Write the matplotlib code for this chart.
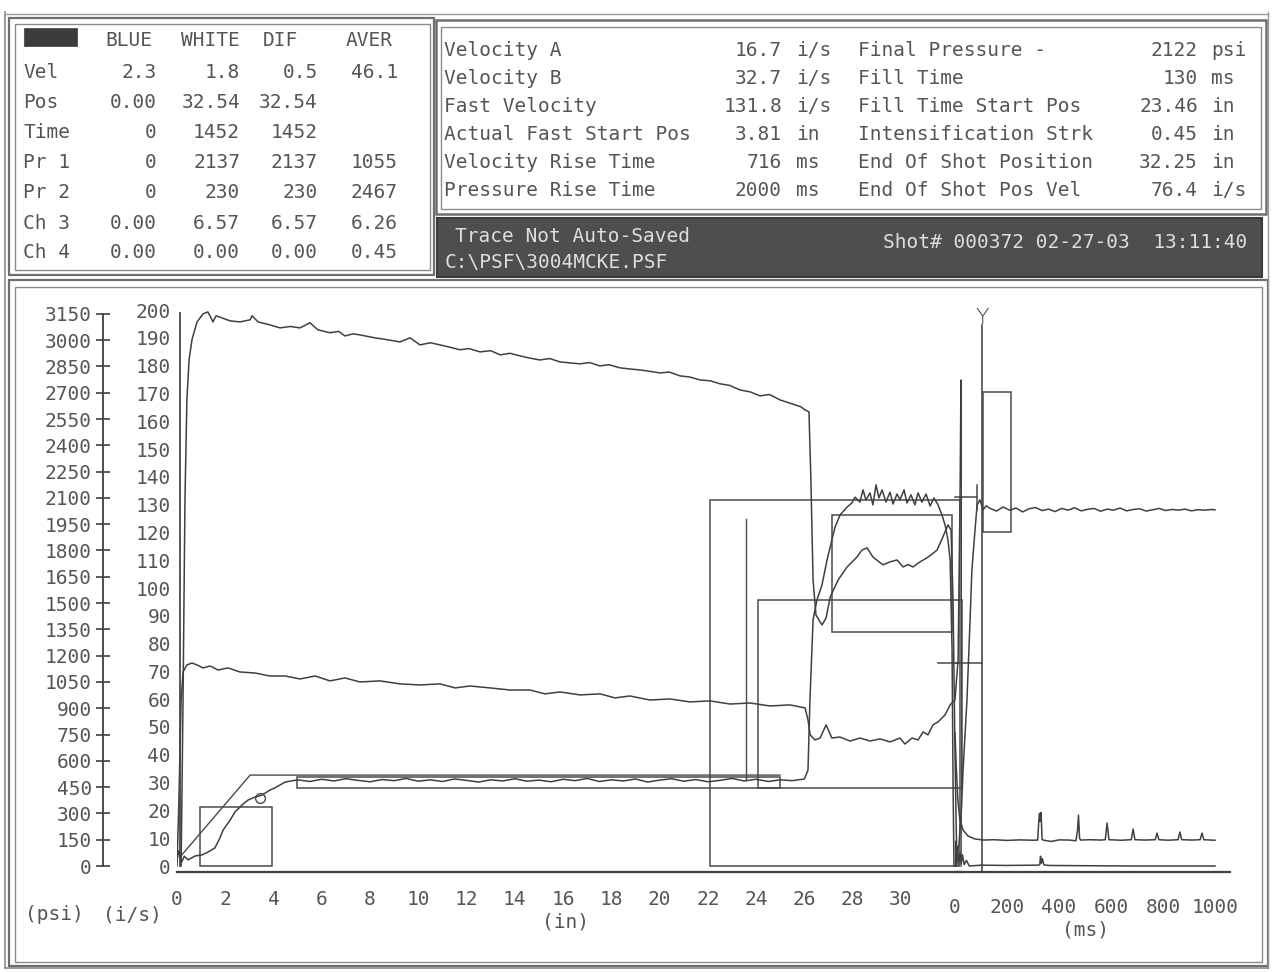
import matplotlib
matplotlib.use('Agg')
import matplotlib.pyplot as plt
from matplotlib.patches import Rectangle
from matplotlib.lines import Line2D

# ---------------- data ----------------
TABLE_COLS = ['BLUE', 'WHITE', 'DIF', 'AVER']
TABLE_ROWS = ['Vel', 'Pos', 'Time', 'Pr 1', 'Pr 2', 'Ch 3', 'Ch 4']
TABLE_VALUES = [
    ['2.3', '1.8', '0.5', '46.1'],
    ['0.00', '32.54', '32.54', ''],
    ['0', '1452', '1452', ''],
    ['0', '2137', '2137', '1055'],
    ['0', '230', '230', '2467'],
    ['0.00', '6.57', '6.57', '6.26'],
    ['0.00', '0.00', '0.00', '0.45'],
]
SUMMARY_LEFT = [
    ('Velocity A', '16.7', 'i/s'),
    ('Velocity B', '32.7', 'i/s'),
    ('Fast Velocity', '131.8', 'i/s'),
    ('Actual Fast Start Pos', '3.81', 'in'),
    ('Velocity Rise Time', '716', 'ms'),
    ('Pressure Rise Time', '2000', 'ms'),
]
SUMMARY_RIGHT = [
    ('Final Pressure -', '2122', 'psi'),
    ('Fill Time', '130', 'ms'),
    ('Fill Time Start Pos', '23.46', 'in'),
    ('Intensification Strk', '0.45', 'in'),
    ('End Of Shot Position', '32.25', 'in'),
    ('End Of Shot Pos Vel', '76.4', 'i/s'),
]
STATUS_LINES = ['Trace Not Auto-Saved', 'C:\\PSF\\3004MCKE.PSF']
SHOT_INFO = 'Shot# 000372 02-27-03  13:11:40'

POS_TICKS = list(range(0, 31, 2))
TIME_TICKS = [0, 200, 400, 600, 800, 1000]
PSI_TICKS = list(range(0, 3151, 150))
VEL_TICKS = list(range(0, 201, 10))

# velocity vs position (in, i/s)
VEL_POS = [
    (0.00, 2.2), (0.08, 5.5), (0.14, 3.0), (0.20, 1.5), (0.30, 3.5), (0.46, 2.2), (0.75, 3.6),
    (1.04, 4.0), (1.28, 5.0), (1.57, 6.5), (1.78, 10.1), (1.91, 12.9), (2.20, 16.5), (2.40, 19.4),
    (2.69, 21.9), (2.94, 23.7), (3.23, 24.8), (3.52, 25.5), (3.85, 27.3), (4.06, 28.1), (4.48, 30.2),
    (5.01, 31.0), (5.5, 30.4), (6.0, 31.2), (6.5, 30.6), (7.0, 31.4), (7.5, 30.8), (8.0, 30.3),
    (8.5, 31.1), (9.0, 30.7), (9.5, 31.5), (10.0, 30.5), (10.5, 31.0), (11.0, 30.4), (11.5, 31.3),
    (12.0, 30.8), (12.5, 30.2), (13.0, 31.0), (13.5, 30.6), (14.0, 31.4), (14.5, 30.5), (15.0, 30.9),
    (15.5, 30.3), (16.0, 31.2), (16.5, 30.7), (17.0, 31.5), (17.5, 30.4), (18.0, 31.0), (18.5, 30.6),
    (19.0, 31.3), (19.5, 30.2), (20.0, 30.9), (20.5, 31.4), (21.0, 30.5), (21.5, 31.1), (22.0, 30.3),
    (22.5, 30.8), (23.0, 31.5), (23.5, 30.6), (24.0, 31.2), (24.5, 30.4), (25.0, 31.0), (25.5, 30.7),
    (26.0, 31.3), (26.15, 34.5), (26.23, 59.7), (26.36, 88.5), (26.52, 95.7), (26.73, 101.1),
    (26.94, 110.1), (27.14, 117.3), (27.27, 121.9), (27.48, 126.3), (27.77, 129.1), (27.97, 130.6),
    (28.10, 132.7), (28.30, 130.9), (28.43, 135.3), (28.55, 131.7), (28.72, 134.2), (28.84, 129.9),
    (28.97, 137.1), (29.09, 132.4), (29.22, 135.3), (29.38, 130.9), (29.55, 134.5), (29.67, 130.2),
    (29.84, 133.8), (29.96, 131.7), (30.13, 135.3), (30.25, 130.6), (30.42, 133.5), (30.58, 129.9),
    (30.71, 134.2), (30.87, 130.9), (31.04, 133.8), (31.21, 129.5), (31.37, 132.4), (31.54, 129.9),
    (31.70, 126.3), (31.83, 122.7), (31.95, 117.3), (32.04, 110.1), (32.12, 77.7), (32.16, 30.9),
    (32.20, 0.0),
]

# Pr 1 vs position (in, psi)
PR1_POS = [
    (0.00, 0), (0.08, 377), (0.17, 947), (0.25, 1107), (0.41, 1147), (0.62, 1158), (0.83, 1147),
    (1.08, 1130), (1.37, 1141), (1.70, 1118), (2.11, 1130), (2.61, 1107), (3.23, 1101), (3.85, 1084),
    (4.48, 1084), (5.10, 1067), (5.72, 1084), (6.34, 1056), (6.96, 1073), (7.58, 1050), (8.41, 1056),
    (9.24, 1039), (10.07, 1033), (10.90, 1039), (11.53, 1016), (12.14, 1027), (12.97, 1016),
    (13.80, 1004), (14.63, 1004), (15.25, 982), (15.87, 993), (16.70, 976), (17.53, 982), (18.15, 959),
    (18.77, 970), (19.60, 947), (20.43, 953), (21.26, 936), (22.09, 942), (22.92, 924), (23.75, 930),
    (24.57, 913), (25.40, 919), (26.03, 902), (26.15, 833), (26.24, 748), (26.44, 719), (26.65, 730),
    (26.90, 805), (27.14, 730), (27.47, 736), (27.89, 713), (28.31, 730), (28.72, 713), (29.13, 725),
    (29.55, 708), (29.96, 730), (30.17, 696), (30.46, 730), (30.71, 719), (30.92, 765), (31.12, 748),
    (31.33, 805), (31.54, 822), (31.83, 862), (32.04, 919), (32.24, 947), (32.37, 1176), (32.45, 2089),
    (32.49, 2773), (32.52, 2260), (32.53, 0),
]

# Pr 2 vs position (in, psi)
PR2_POS = [
    (0.17, 0), (0.25, 947), (0.33, 2089), (0.41, 2659), (0.50, 2887), (0.62, 3002), (0.83, 3104),
    (1.08, 3150), (1.28, 3161), (1.41, 3127), (1.49, 3104), (1.62, 3139), (1.86, 3127), (2.20, 3110),
    (2.61, 3104), (3.03, 3116), (3.11, 3139), (3.36, 3104), (3.85, 3087), (4.27, 3070), (4.70, 3078),
    (5.10, 3070), (5.51, 3099), (5.84, 3059), (6.34, 3042), (6.70, 3050), (6.96, 3024), (7.30, 3036),
    (7.58, 3030), (8.21, 3013), (8.60, 3005), (9.24, 2990), (9.66, 3013), (10.07, 2973), (10.50, 2985),
    (10.90, 2973), (11.30, 2960), (11.73, 2945), (12.10, 2952), (12.56, 2933), (13.00, 2940),
    (13.39, 2916), (13.80, 2925), (14.22, 2910), (14.60, 2898), (15.04, 2887), (15.45, 2895),
    (15.87, 2876), (16.30, 2870), (16.70, 2865), (17.10, 2872), (17.53, 2853), (17.90, 2860),
    (18.36, 2842), (18.80, 2835), (19.19, 2830), (19.60, 2822), (20.02, 2813), (20.40, 2818),
    (20.85, 2796), (21.25, 2790), (21.67, 2773), (22.10, 2768), (22.50, 2751), (22.90, 2742),
    (23.33, 2716), (23.75, 2705), (24.16, 2682), (24.55, 2690), (24.99, 2659), (25.30, 2645),
    (25.61, 2631), (25.85, 2620), (26.03, 2602), (26.19, 2591), (26.27, 2203), (26.36, 1632),
    (26.48, 1432), (26.73, 1375), (26.90, 1415), (27.07, 1535), (27.40, 1632), (27.77, 1706),
    (28.18, 1763), (28.39, 1803), (28.60, 1815), (28.84, 1763), (29.05, 1740), (29.26, 1718),
    (29.55, 1735), (29.84, 1746), (30.09, 1706), (30.30, 1720), (30.50, 1706), (30.79, 1735),
    (31.08, 1758), (31.30, 1780), (31.50, 1803), (31.74, 1877), (31.95, 1946), (32.08, 1917),
    (32.16, 1518), (32.24, 662), (32.32, 0),
]

# time domain (ms)
PR1_TIME = [
    (0, 0), (15, 120), (25, 330), (31, 548), (46, 947), (58, 1404), (65, 1689), (77, 1917), (85, 2060),
    (96, 2089), (108, 2032), (120, 2055), (135, 2040), (160, 2025), (185, 2048), (210, 2030),
    (235, 2042), (260, 2020), (285, 2038), (310, 2045), (335, 2028), (360, 2036), (385, 2022),
    (410, 2040), (435, 2030), (460, 2044), (485, 2026), (510, 2035), (535, 2040), (560, 2024),
    (585, 2036), (610, 2030), (635, 2042), (660, 2026), (685, 2034), (710, 2038), (735, 2025),
    (760, 2032), (785, 2040), (810, 2028), (835, 2034), (860, 2030), (885, 2036), (910, 2026),
    (935, 2033), (960, 2030), (985, 2034), (1000, 2032),
]
PR2_TIME = [
    (0, 760), (5, 560), (11, 377), (19, 262), (31, 205), (50, 171), (77, 154), (110, 148), (150, 150),
    (200, 146), (250, 149), (300, 147), (318, 148), (322, 250), (325, 300), (328, 255), (331, 305),
    (335, 150), (345, 146), (370, 140), (400, 149), (440, 148), (465, 144), (471, 200), (475, 290),
    (479, 160), (483, 148), (520, 150), (560, 148), (578, 150), (585, 245), (592, 150), (640, 147),
    (678, 150), (685, 211), (692, 150), (730, 148), (770, 150), (777, 188), (784, 150), (820, 147),
    (858, 150), (865, 194), (872, 150), (910, 148), (943, 150), (950, 188), (957, 150), (1000, 147),
]
VEL_TIME = [
    (0, 0), (3, 9), (6, 1), (10, 7), (14, 0.5), (19, 5), (24, 1), (29, 4), (35, 0.5), (44, 2), (55, 0),
    (100, 0.3), (200, 0.2), (320, 0.3), (326, 0.5), (329, 3.5), (332, 1.0), (336, 2.6), (342, 0.4),
    (360, 0.2), (500, 0.1), (700, 0.0), (1000, 0.0),
]

# limit boxes / set-point lines (position domain: in, i/s)
LIMIT_BOXES_POS = [
    (0.95, 3.94, 0.0, 21.2),
    (4.97, 24.99, 28.2, 32.0),
    (22.09, 32.45, 0.0, 131.7),
    (24.08, 32.53, 28.2, 95.7),
    (27.14, 32.11, 84.2, 126.3),
]
PROFILE_POS = [(0.12, 3.2), (3.03, 32.7), (24.99, 32.7)]
FILL_START_LINE = (23.6, 31.0, 125.0)
MARKER_POS = (3.44, 24.5)
BLUE_CURSOR_IN = 0.12
CROSS_LEVEL = 73.0
CROSS_FROM_IN = 31.54
TOP_MARK_LEVEL = 132.7
TOP_MARK_FROM_IN = 32.45
# time domain (ms, i/s)
LIMIT_BOXES_TIME = [(108, 215, 120.1, 170.5)]
WHITE_CURSOR_MS = 104
TOP_MARK_TO_MS = 85
CROSS_TO_MS = 104

# ---------------- layout ----------------
W, H = 1274, 973
fig = plt.figure(figsize=(W / 100, H / 100), dpi=100)
fig.patch.set_facecolor('white')

INK = '#404040'
TXT = '#555555'
FRAME = '#6e6e6e'
FONT = 'DejaVu Sans Mono'
FS = 14


def fx(px):
    return px / W


def fy(py):
    return 1 - py / H


def frect(x0, y0, x1, y1, lw=1.5, ec=FRAME, fc=None, z=1):
    fig.add_artist(Rectangle((fx(x0), fy(y1)), fx(x1) - fx(x0), fy(y0) - fy(y1),
                             transform=fig.transFigure, fill=fc is not None,
                             facecolor=fc if fc else 'none', edgecolor=ec, lw=lw, zorder=z))


def fline(x0, y0, x1, y1, lw=1.5, c=FRAME):
    fig.add_artist(Line2D([fx(x0), fx(x1)], [fy(y0), fy(y1)], transform=fig.transFigure,
                          color=c, lw=lw))


def ftext(x, y, s, ha='left', color=TXT, size=FS, **kw):
    fig.text(fx(x), fy(y), s, ha=ha, va='center', color=color, fontsize=size,
             family=FONT, **kw)


# scanned frame lines
fline(5, 12, 5, 968, lw=1.2, c='#8a8a8a')
fline(1268, 12, 1268, 968, lw=1.0, c='#9a9a9a')
fline(5, 968, 1268, 968, lw=1.2, c='#8a8a8a')
fline(5, 14, 1268, 14, lw=1.0, c='#9a9a9a')

# top-left table panel
frect(9, 18, 434, 275, lw=1.6)
frect(15, 24, 430, 270, lw=1.0, ec='#8a8a8a')
frect(24, 28, 77, 46, lw=0.5, ec='#3c3c3c', fc='#3c3c3c', z=2)
HDR_RIGHT = [152, 240, 298, 393]
COL_RIGHT = [157, 240, 318, 398]
ROW_Y = [73, 102, 133, 163, 193, 223, 252]
for name, xr in zip(TABLE_COLS, HDR_RIGHT):
    ftext(xr, 40, name, ha='right')
for r, (label, vals) in enumerate(zip(TABLE_ROWS, TABLE_VALUES)):
    ftext(23, ROW_Y[r], label)
    for v, xr in zip(vals, COL_RIGHT):
        if v:
            ftext(xr, ROW_Y[r], v, ha='right')

# top-right summary panel
frect(436, 20, 1266, 214, lw=1.8)
frect(441, 27, 1261, 209, lw=1.0, ec='#8a8a8a')
SUM_Y = [50, 78, 106, 134, 162, 190]
for y, (lab, val, unit) in zip(SUM_Y, SUMMARY_LEFT):
    ftext(444, y, lab)
    ftext(782, y, val, ha='right')
    ftext(796, y, unit)
for y, (lab, val, unit) in zip(SUM_Y, SUMMARY_RIGHT):
    ftext(858, y, lab)
    ftext(1198, y, val, ha='right')
    ftext(1211, y, unit)

# status bar
frect(437, 218, 1262, 277, lw=1.5, ec='#3a3a3a', fc='#4e4e4e')
ftext(455, 237, STATUS_LINES[0], color='#dedede')
ftext(445, 262, STATUS_LINES[1], color='#dedede')
ftext(883, 242, SHOT_INFO, color='#dedede')

# plot panel
frect(9, 280, 1268, 966, lw=1.6)
frect(15, 287, 1262, 962, lw=1.0, ec='#8a8a8a')

# ---------------- axes ----------------
AX_TOP, AX_BOT = 300, 872
V_ZERO_PX, V_PX = 866, 2.78          # px of 0 i/s, px per i/s
PSI_PER_V = 15.86
vlo = -(AX_BOT - V_ZERO_PX) / V_PX
vhi = (V_ZERO_PX - AX_TOP) / V_PX
plo, phi = vlo * PSI_PER_V, vhi * PSI_PER_V
ax_h = (AX_BOT - AX_TOP) / H

POS_L, POS_R, IN_PX = 177, 962, 24.13
TIME_L, TIME_R, MS_PX = 955, 1230, 0.26

ax_pos = fig.add_axes([fx(POS_L), fy(AX_BOT), (POS_R - POS_L) / W, ax_h])
ax_pos.set_xlim(0, (POS_R - POS_L) / IN_PX)
ax_time = fig.add_axes([fx(TIME_L), fy(AX_BOT), (TIME_R - TIME_L) / W, ax_h])
ax_time.set_xlim(0, (TIME_R - TIME_L) / MS_PX)

for ax in (ax_pos, ax_time):
    ax.set_ylim(vlo, vhi)
    ax.patch.set_alpha(0)
    for s in ('top', 'right', 'left'):
        ax.spines[s].set_visible(False)
    ax.spines['bottom'].set_color(INK)
    ax.spines['bottom'].set_linewidth(1.6)
    ax.set_yticks([])
    ax.tick_params(axis='x', length=0, colors=TXT, labelsize=FS)

ax_pos.set_xticks(POS_TICKS)
ax_pos.set_xticklabels([str(t) for t in POS_TICKS], family=FONT)
ax_pos.tick_params(axis='x', pad=13)
ax_time.set_xticks(TIME_TICKS)
ax_time.set_xticklabels([str(t) for t in TIME_TICKS], family=FONT)
ax_time.tick_params(axis='x', pad=19)

axp_pos = ax_pos.twinx()
axp_time = ax_time.twinx()
for ax in (axp_pos, axp_time):
    ax.set_ylim(plo, phi)
    ax.axis('off')

LW = 1.1
ax_pos.plot(*zip(*VEL_POS), color=INK, lw=LW, zorder=3)
axp_pos.plot(*zip(*PR1_POS), color=INK, lw=LW, zorder=3)
axp_pos.plot(*zip(*PR2_POS), color=INK, lw=LW, zorder=3)
ax_time.plot(*zip(*VEL_TIME), color=INK, lw=LW, zorder=3)
axp_time.plot(*zip(*PR1_TIME), color=INK, lw=LW, zorder=3)
axp_time.plot(*zip(*PR2_TIME), color=INK, lw=LW, zorder=3)

BOX_C = '#4a4a4a'
for x0, x1, y0, y1 in LIMIT_BOXES_POS:
    ax_pos.add_patch(Rectangle((x0, y0), x1 - x0, y1 - y0, fill=False, ec=BOX_C, lw=1.1,
                               clip_on=False))
for x0, x1, y0, y1 in LIMIT_BOXES_TIME:
    ax_time.add_patch(Rectangle((x0, y0), x1 - x0, y1 - y0, fill=False, ec=BOX_C, lw=1.1,
                                clip_on=False))
ax_pos.plot(*zip(*PROFILE_POS), color=BOX_C, lw=1.0)
ax_pos.plot([FILL_START_LINE[0]] * 2, FILL_START_LINE[1:], color=BOX_C, lw=1.0)
ax_pos.plot([BLUE_CURSOR_IN] * 2, [0, 198.9], color=BOX_C, lw=1.3)
ax_pos.plot(*MARKER_POS, marker='o', ms=7, mfc='none', mec=BOX_C, mew=1.0)
xend = ax_pos.get_xlim()[1]
ax_pos.plot([CROSS_FROM_IN, xend], [CROSS_LEVEL] * 2, color=BOX_C, lw=1.1, clip_on=False)
ax_time.plot([0, CROSS_TO_MS], [CROSS_LEVEL] * 2, color=BOX_C, lw=1.1, clip_on=False)
ax_pos.plot([TOP_MARK_FROM_IN, xend], [TOP_MARK_LEVEL] * 2, color=BOX_C, lw=1.1, clip_on=False)
ax_time.plot([0, TOP_MARK_TO_MS], [TOP_MARK_LEVEL] * 2, color=BOX_C, lw=1.1, clip_on=False)
ax_time.plot([TOP_MARK_TO_MS] * 2, [128, 137], color=BOX_C, lw=1.1)

# white cursor with Y marker
CURSOR_TOP = 194.5
ax_time.plot([WHITE_CURSOR_MS] * 2, [vlo, CURSOR_TOP], color=BOX_C, lw=1.2, clip_on=False)
ax_time.text(WHITE_CURSOR_MS, CURSOR_TOP - 1.0, 'Y', ha='center', va='bottom', color=INK,
             fontsize=16, family='DejaVu Sans', fontweight='light')

# left scales
ax_pl = fig.add_axes([fx(103), fy(AX_BOT), 0.0001, ax_h])
ax_pl.set_ylim(plo, phi)
ax_pl.set_xticks([])
for s in ('top', 'right', 'bottom'):
    ax_pl.spines[s].set_visible(False)
ax_pl.spines['left'].set_bounds(0, 3150)
ax_pl.spines['left'].set_color(INK)
ax_pl.spines['left'].set_linewidth(1.3)
ax_pl.set_yticks(PSI_TICKS)
ax_pl.set_yticklabels([str(t) for t in PSI_TICKS], family=FONT)
ax_pl.tick_params(axis='y', direction='inout', length=10, width=1.2, pad=3, colors=INK,
                  labelcolor=TXT, labelsize=FS)

ax_vl = fig.add_axes([fx(171), fy(AX_BOT), 0.0001, ax_h])
ax_vl.set_ylim(vlo, vhi)
ax_vl.set_xticks([])
for s in ax_vl.spines.values():
    s.set_visible(False)
ax_vl.set_yticks(VEL_TICKS)
ax_vl.set_yticklabels([str(t) for t in VEL_TICKS], family=FONT)
ax_vl.tick_params(axis='y', length=0, pad=0, labelcolor=TXT, labelsize=FS)

# axis unit labels
ftext(25, 915, '(psi)')
ftext(103, 915, '(i/s)')
ftext(565, 922, '(in)', ha='center')
ftext(1085, 930, '(ms)', ha='center')

fig.savefig('out.png', dpi=100, facecolor='white')
